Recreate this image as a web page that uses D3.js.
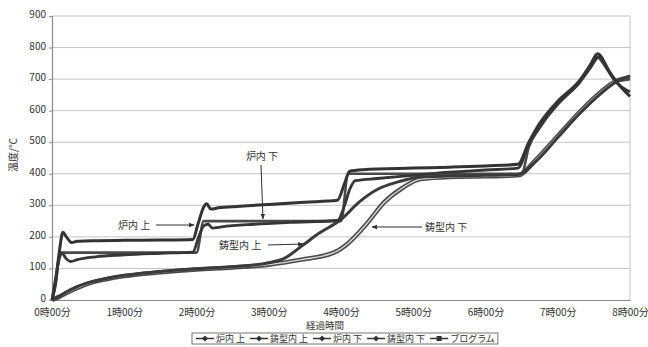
<html>
<head>
<meta charset="utf-8">
<script src="https://d3js.org/d3.v7.min.js"></script>
<style>
  body { margin:0; background:#fff; }
  text { font-family:"Noto Sans CJK JP","Noto Sans",sans-serif; fill:#333; }
</style>
</head>
<body>
<div id="chart"></div>
<script>
// time in hours, temperature in deg C
var furnaceUpper = [[0,0],[0.05,60],[0.1,150],[0.15,215],[0.2,200],[0.27,182],[0.35,186],[0.6,188],[1,189],[1.5,190],[1.95,192],
  [2.02,240],[2.1,295],[2.14,305],[2.2,288],[2.3,292],[2.6,297],[3,303],[3.5,310],[3.95,316],[4.05,370],[4.12,408],[4.3,413],
  [5,418],[5.5,421],[6,425],[6.45,430],[6.6,500],[6.75,560],[7,630],[7.3,695],[7.45,745],[7.55,780],[7.72,722],[7.82,690],[8,645]];
var moldUpper = [[0,0],[0.1,12],[0.25,32],[0.5,55],[0.75,68],[1,78],[1.5,90],[2,99],[2.5,105],[3,118],[3.2,130],[3.45,170],
  [3.7,212],[4,255],[4.25,310],[4.5,350],[4.8,375],[5.1,390],[5.5,393],[6,395],[6.45,398],[6.7,440],[7,515],[7.3,590],[7.6,655],[7.8,690],[8,710]];
var furnaceLower = [[0,0],[0.05,50],[0.1,140],[0.13,150],[0.2,130],[0.26,122],[0.35,128],[0.6,137],[1,143],[1.5,148],[1.95,152],
  [2.03,200],[2.1,235],[2.16,240],[2.22,228],[2.35,232],[2.8,240],[3.3,246],[3.95,252],[4.05,300],[4.12,350],[4.2,378],[4.5,385],
  [5,395],[5.5,405],[6,412],[6.45,418],[6.6,495],[6.75,550],[7,620],[7.3,690],[7.45,735],[7.57,770],[7.72,720],[7.82,688],[8,660]];
var moldLower = [[0,0],[0.1,10],[0.25,28],[0.5,52],[0.75,66],[1,76],[1.5,88],[2,97],[2.5,103],[3,112],[3.45,128],[3.9,150],
  [4.1,180],[4.35,240],[4.6,310],[4.85,355],[5.1,383],[5.5,390],[6,392],[6.45,395],[6.7,445],[7,520],[7.3,595],[7.6,660],[7.8,693],[8,705]];
var program = [[0,0],[0.15,150],[2,150],[2.1,250],[4,250],[4.1,400],[6.5,400],[6.6,485],[6.75,545],[7,622],[7.3,688],
  [7.45,738],[7.53,772],[7.7,725],[7.8,695],[8,700]];

var seriesNames = ["炉内 上","鋳型内 上","炉内 下","鋳型内 下","プログラム"];
var xTicks = [0,1,2,3,4,5,6,7,8];
var xTickLabels = ["0時00分","1時00分","2時00分","3時00分","4時00分","5時00分","6時00分","7時00分","8時00分"];
var yTicks = [0,100,200,300,400,500,600,700,800,900];

var width = 648, height = 347;
var mLeft = 52, mRight = 630, mTop = 16, mBottom = 300;

var x = d3.scaleLinear().domain([0,8]).range([mLeft,mRight]);
var y = d3.scaleLinear().domain([0,900]).range([mBottom,mTop]);

var svg = d3.select("#chart").append("svg")
  .attr("width",width).attr("height",height);

// grid
svg.append("g").selectAll("line").data(yTicks.slice(1)).enter().append("line")
  .attr("x1",mLeft).attr("x2",mRight)
  .attr("y1",function(d){return y(d);}).attr("y2",function(d){return y(d);})
  .attr("stroke","#c4c4c4").attr("stroke-width",1);
svg.append("line").attr("x1",mRight).attr("x2",mRight).attr("y1",mTop).attr("y2",mBottom)
  .attr("stroke","#c4c4c4");

// axes
var yAxis = svg.append("g").attr("transform","translate("+mLeft+",0)")
  .call(d3.axisLeft(y).tickValues(yTicks).tickSize(3).tickPadding(3));
var xAxis = svg.append("g").attr("transform","translate(0,"+mBottom+")")
  .call(d3.axisBottom(x).tickValues(xTicks).tickSize(0).tickPadding(9)
    .tickFormat(function(d,i){return xTickLabels[i];}));
[yAxis,xAxis].forEach(function(a){
  a.select(".domain").attr("stroke","#8a8a8a").attr("stroke-width",1.2);
  a.selectAll(".tick line").attr("stroke","#8a8a8a");
  a.selectAll("text").style("font-size","10px").style("fill","#333")
    .style("font-family","'Noto Sans CJK JP',sans-serif");
});
yAxis.selectAll(".tick text").attr("dy","0.15em");

svg.append("text").attr("x",325).attr("y",328.5).attr("text-anchor","middle")
  .style("font-size","9.5px").text("経過時間");
svg.append("text").attr("transform","translate(17,155) rotate(-90)")
  .attr("text-anchor","middle").style("font-size","10px").text("温度/℃");

// lines
var line = d3.line().x(function(d){return x(d[0]);}).y(function(d){return y(d[1]);})
  .curve(d3.curveMonotoneX);

var drawOrder = [
  {data:program, color:"#4a4a4a", w:2.6},
  {data:moldUpper, color:"#3a3a3a", w:3},
  {data:furnaceLower, color:"#363636", w:2.8},
  {data:furnaceUpper, color:"#333", w:3}
];
// mold lower is drawn hollow-looking (dark edge, pale core)
svg.append("path").attr("d",line(moldLower)).attr("fill","none")
  .attr("stroke","#4a4a4a").attr("stroke-width",4.5);
svg.append("path").attr("d",line(moldLower)).attr("fill","none")
  .attr("stroke","#d8d8d8").attr("stroke-width",1.4);
drawOrder.forEach(function(s){
  svg.append("path").attr("d",line(s.data)).attr("fill","none")
    .attr("stroke",s.color).attr("stroke-width",s.w).attr("stroke-linejoin","round");
});

// annotations
var ann = svg.append("g");
ann.append("defs").append("marker").attr("id","ah").attr("viewBox","0 0 10 10")
  .attr("refX",9).attr("refY",5).attr("markerWidth",6).attr("markerHeight",6).attr("orient","auto")
  .append("path").attr("d","M0,1 L10,5 L0,9 z").attr("fill","#333");
function note(txt,tx,ty,anchor,x1,y1,x2,y2){
  ann.append("text").attr("x",tx).attr("y",ty).attr("text-anchor",anchor)
    .style("font-size","10px").text(txt);
  ann.append("line").attr("x1",x1).attr("y1",y1).attr("x2",x2).attr("y2",y2)
    .attr("stroke","#333").attr("stroke-width",1).attr("marker-end","url(#ah)");
}
note("炉内 上",118,229,"start",156,225,194,225);
note("炉内 下",262,160,"middle",261,165,263,219);
note("鋳型内 上",219,249,"start",268,245,303,244);
note("鋳型内 下",425,231,"start",422,227,372,227);

// legend
var lg = svg.append("g");
var lx = 196, ly = 338.5;
seriesNames.forEach(function(n,i){
  var g = lg.append("g").attr("transform","translate("+lx+","+ly+")");
  g.append("line").attr("x1",0).attr("x2",18).attr("y1",0).attr("y2",0)
    .attr("stroke","#333").attr("stroke-width",1.5);
  if(i==4) g.append("rect").attr("x",6.5).attr("y",-2.5).attr("width",5).attr("height",5).attr("fill","#333");
  else g.append("path").attr("d","M9,-3 L12,0 L9,3 L6,0 z").attr("fill","#333");
  var t = g.append("text").attr("x",20).attr("y",3.2).style("font-size","9px").text(n);
  lx += 20 + t.node().getComputedTextLength() + 5;
});
lg.insert("rect",":first-child").attr("x",192).attr("y",333).attr("width",lx-192-2).attr("height",11)
  .attr("fill","none").attr("stroke","#555").attr("stroke-width",0.8);
</script>
</body>
</html>
